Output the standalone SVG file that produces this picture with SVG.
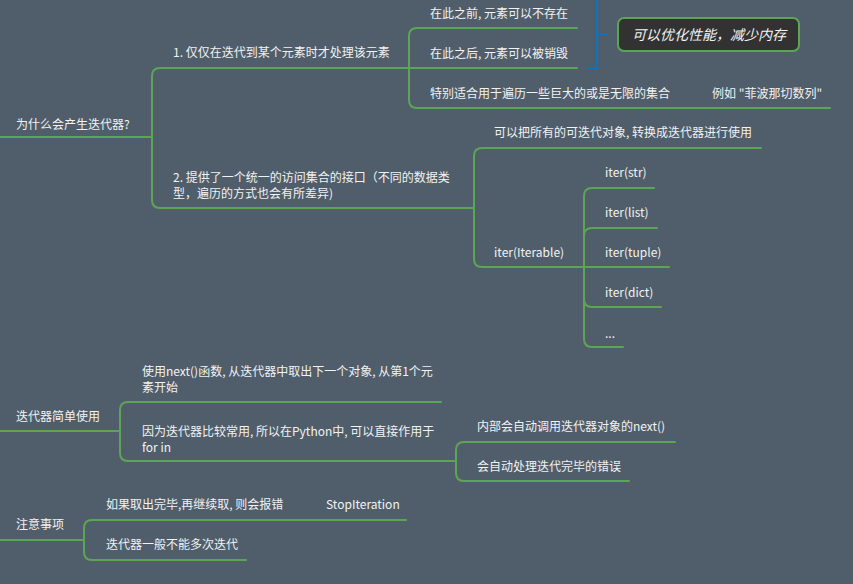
<svg xmlns="http://www.w3.org/2000/svg" width="853" height="584" viewBox="0 0 853 584">
<style>
.t{font-family:"Microsoft YaHei","Noto Sans CJK SC","Noto Sans",sans-serif;font-size:12px;fill:#f2f2f2}
.c{fill:none;stroke:#5ca554;stroke-width:2;stroke-linecap:round}
.b{fill:none;stroke:#0a73c4;stroke-width:2}
</style>
<rect x="0" y="0" width="853" height="584" fill="#505e6b"/>
<g id="connectors">
<path class="c" d="M-2,137 H152"/>
<path class="c" d="M152,137 V76 Q152,68 160,68 H409"/>
<path class="c" d="M152,137 V200 Q152,208 160,208 H474"/>
<path class="c" d="M409,68 V36 Q409,28 417,28 H577"/>
<path class="c" d="M409,68 H577"/>
<path class="c" d="M409,68 V100 Q409,108 417,108 H830"/>
<path class="c" d="M474,208 V156 Q474,148 482,148 H761"/>
<path class="c" d="M474,208 V259 Q474,267 482,267 H669"/>
<path class="c" d="M584,267 V196 Q584,188 592,188 H654"/>
<path class="c" d="M584,267 V236 Q584,228 592,228 H657"/>
<path class="c" d="M584,267 V299 Q584,307 592,307 H661"/>
<path class="c" d="M584,267 V339 Q584,347 592,347 H623"/>
<path class="c" d="M-2,431 H120"/>
<path class="c" d="M120,431 V410 Q120,402 128,402 H441"/>
<path class="c" d="M120,431 V453 Q120,461 128,461 H456"/>
<path class="c" d="M456,461 V450 Q456,442 464,442 H675"/>
<path class="c" d="M456,461 V473 Q456,481 464,481 H629"/>
<path class="c" d="M-2,540 H84"/>
<path class="c" d="M84,540 V528 Q84,520 92,520 H406"/>
<path class="c" d="M84,540 V552 Q84,560 92,560 H246"/>
<path class="b" d="M597,-2 V68 H587"/>
<path class="b" d="M597,34 H607"/>
</g>
<g id="root1"><text class="t" x="16" y="129">为什么会产生迭代器?</text></g>
<g id="n1"><text class="t" x="173" y="57">1. 仅仅在迭代到某个元素时才处理该元素</text></g>
<g id="n1a"><text class="t" x="430" y="18">在此之前, 元素可以不存在</text></g>
<g id="n1b"><text class="t" x="430" y="58">在此之后, 元素可以被销毁</text></g>
<g id="n1c"><text class="t" x="430" y="98">特别适合用于遍历一些巨大的或是无限的集合</text></g>
<g id="n1c1"><text class="t" x="712" y="98">例如 "菲波那切数列"</text></g>
<g id="summary">
<rect x="618" y="18" width="181" height="33" rx="6" fill="#323232" stroke="#5ca554" stroke-width="2"/>
<text class="t" x="709" y="39.5" text-anchor="middle" font-style="italic" style="font-size:14px">可以优化性能，减少内存</text>
</g>
<g id="n2"><text class="t" x="173" y="182">2. 提供了一个统一的访问集合的接口（不同的数据类</text><text class="t" x="173" y="198">型，遍历的方式也会有所差异)</text></g>
<g id="n2a"><text class="t" x="494" y="137">可以把所有的可迭代对象, 转换成迭代器进行使用</text></g>
<g id="n2b"><text class="t" x="494" y="257">iter(Iterable)</text></g>
<g id="i1"><text class="t" x="605" y="177">iter(str)</text></g>
<g id="i2"><text class="t" x="605" y="217">iter(list)</text></g>
<g id="i3"><text class="t" x="605" y="257">iter(tuple)</text></g>
<g id="i4"><text class="t" x="605" y="297">iter(dict)</text></g>
<g id="i5"><text class="t" x="605" y="338">...</text></g>
<g id="root2"><text class="t" x="16" y="421">迭代器简单使用</text></g>
<g id="s1"><text class="t" x="142" y="376">使用next()函数, 从迭代器中取出下一个对象, 从第1个元</text><text class="t" x="142" y="392">素开始</text></g>
<g id="s2"><text class="t" x="142" y="436">因为迭代器比较常用, 所以在Python中, 可以直接作用于</text><text class="t" x="142" y="452">for in</text></g>
<g id="s2a"><text class="t" x="477" y="431">内部会自动调用迭代器对象的next()</text></g>
<g id="s2b"><text class="t" x="477" y="471">会自动处理迭代完毕的错误</text></g>
<g id="root3"><text class="t" x="16" y="529">注意事项</text></g>
<g id="m1"><text class="t" x="106" y="509">如果取出完毕,再继续取, 则会报错</text></g>
<g id="m1a"><text class="t" x="326" y="509">StopIteration</text></g>
<g id="m2"><text class="t" x="106" y="549">迭代器一般不能多次迭代</text></g>
</svg>
